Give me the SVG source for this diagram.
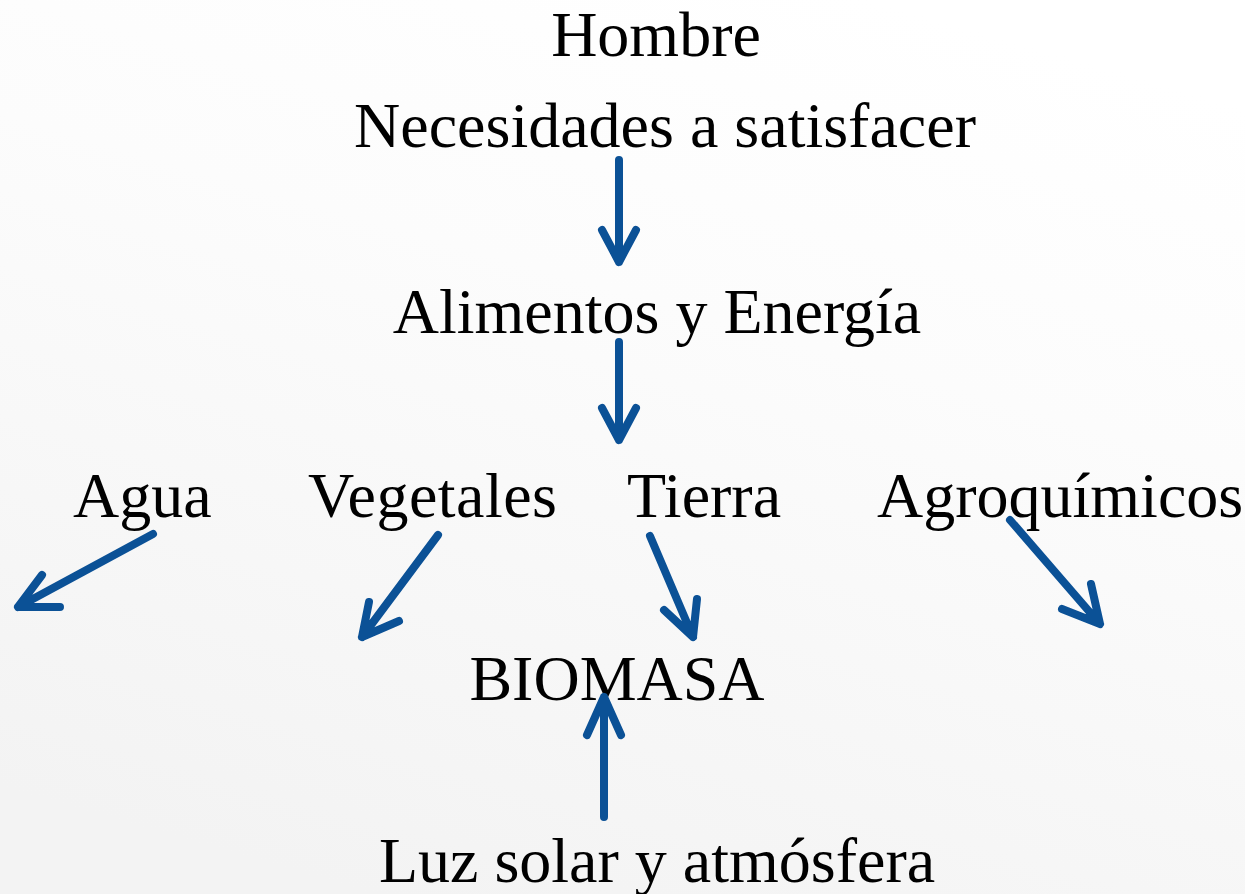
<svg xmlns="http://www.w3.org/2000/svg" width="1245" height="894" viewBox="0 0 1245 894">
  <defs>
    <linearGradient id="bg" x1="0.7" y1="0" x2="0.3" y2="1">
      <stop offset="0" stop-color="#ffffff"/>
      <stop offset="0.35" stop-color="#fcfcfc"/>
      <stop offset="1" stop-color="#f3f3f3"/>
    </linearGradient>
    <style>
      .lbl { font-family: "Liberation Serif", "Times New Roman", serif; font-size: 64px; fill: #000; }
      .arr { fill: none; stroke: #0b5196; stroke-width: 8; stroke-linecap: round; stroke-linejoin: round; }
    </style>
  </defs>
  <rect width="1245" height="894" fill="url(#bg)"/>

  <g id="hombre"><text class="lbl" x="656" y="56" text-anchor="middle">Hombre</text></g>
  <g id="necesidades"><text class="lbl" x="665" y="147" text-anchor="middle">Necesidades a satisfacer</text></g>
  <g id="alimentos"><text class="lbl" x="657" y="333" text-anchor="middle">Alimentos y Energía</text></g>
  <g id="agua"><text class="lbl" x="73" y="517">Agua</text></g>
  <g id="vegetales"><text class="lbl" x="308" y="517" textLength="249">Vegetales</text></g>
  <g id="tierra"><text class="lbl" x="627" y="517">Tierra</text></g>
  <g id="agroquimicos"><text class="lbl" x="877" y="517">Agroquímicos</text></g>
  <g id="biomasa"><text class="lbl" x="617" y="700" text-anchor="middle">BIOMASA</text></g>
  <g id="luz"><text class="lbl" x="657" y="882" text-anchor="middle">Luz solar y atmósfera</text></g>

  <g id="connectors">
    <!-- necesidades -> alimentos -->
    <path class="arr" d="M619 160 V262 M602 230 L619 262 L636 230"/>
    <!-- alimentos -> insumos -->
    <path class="arr" d="M619 342 V440 M602 408 L619 440 L636 408"/>
    <!-- agua -->
    <path class="arr" d="M153 534 L18 607 M42 575 L18 607 L60 607"/>
    <!-- vegetales -->
    <path class="arr" d="M438 535 L362 637 M369 602 L362 637 L399 621"/>
    <!-- tierra -->
    <path class="arr" d="M650 536 L693 637 M664 610 L693 637 L697 599"/>
    <!-- agroquimicos -->
    <path class="arr" d="M1010 520 L1100 624 M1062 609 L1100 624 L1091 584"/>
    <!-- luz -> biomasa -->
    <path class="arr" d="M604 817 V697 M587 735 L604 697 L621 735"/>
  </g>
</svg>
